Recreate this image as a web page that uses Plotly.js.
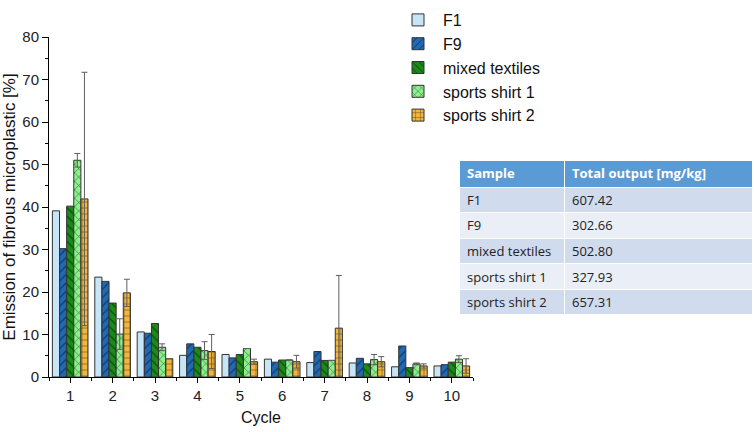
<!DOCTYPE html>
<html>
<head>
<meta charset="utf-8">
<script src="https://cdn.plot.ly/plotly-3.0.1.min.js"></script>
<style>
  html, body { margin: 0; padding: 0; background: #ffffff; }
  #chart { width: 754px; height: 432px; }
</style>
</head>
<body>
<div id="chart"></div>
<script>
// Emission per washing cycle
var cycles = [1, 2, 3, 4, 5, 6, 7, 8, 9, 10];
var tickLabels = ['1', '2', '3', '4', '5', '6', '7', '8', '9', '10'];

var seriesNames = ['F1', 'F9', 'mixed textiles', 'sports shirt 1', 'sports shirt 2'];

var f1 = [39.1, 23.5, 10.6, 5.1, 5.3, 4.2, 3.4, 3.3, 2.4, 2.6];
var f9 = [30.2, 22.5, 10.3, 7.8, 4.5, 3.5, 6.0, 4.4, 7.3, 2.9];
var mixedTextiles = [40.2, 17.4, 12.6, 7.0, 5.3, 4.0, 3.9, 3.1, 2.2, 3.5];
var sportsShirt1 = [51.0, 10.1, 7.0, 6.2, 6.7, 4.0, 3.9, 4.1, 3.1, 4.2];
var sportsShirt2 = [41.9, 19.8, 4.3, 6.0, 3.6, 3.6, 11.5, 3.6, 2.6, 2.6];

var sportsShirt1Err = [1.6, 3.6, 0.8, 2.1, 0, 0, 0, 1.2, 0.2, 0.8];
var sportsShirt2Err = [29.8, 3.2, 0, 4.0, 0.6, 1.5, 12.4, 1.2, 0.5, 1.7];

// Table of total output
var tableHeader = ['Sample', 'Total output [mg/kg]'];
var tableSamples = ['F1', 'F9', 'mixed textiles', 'sports shirt 1', 'sports shirt 2'];
var tableOutput = ['607.42', '302.66', '502.80', '327.93', '657.31'];

var W = 754, H = 432;
var M = { l: 49, r: 2, t: 37, b: 55 };
var plotW = W - M.l - M.r, plotH = H - M.t - M.b;
function px2x(p) { return (p - M.l) / plotW; }
function px2y(p) { return (H - M.b - p) / plotH; }

var styles = [
    { fill: '#c6e6f8', fg: '#c6e6f8', shape: '' },
    { fill: '#2269b3', fg: '#0f3a6a', shape: '/' },
    { fill: '#1b8a1b', fg: '#0b4a0b', shape: '\\' },
    { fill: '#8ef08e', fg: '#2e6e2e', shape: 'x' },
    { fill: '#f4b63a', fg: '#6b5220', shape: '+' }
];
var values = [f1, f9, mixedTextiles, sportsShirt1, sportsShirt2];
var errors = [null, null, null, sportsShirt1Err, sportsShirt2Err];

var traces = values.map(function(v, i) {
    var st = styles[i];
    var marker = {
        color: st.fill,
        line: { color: '#333333', width: 1 }
    };
    if (st.shape) {
        marker.pattern = { shape: st.shape, fgcolor: st.fg, bgcolor: st.fill, size: 6, solidity: 0.2, fillmode: 'replace' };
    }
    var t = {
        type: 'bar',
        name: seriesNames[i],
        x: cycles,
        y: v,
        marker: marker
    };
    if (errors[i]) {
        t.error_y = { type: 'data', array: errors[i], visible: true, color: '#5e5e5e', thickness: 1, width: 3 };
    }
    return t;
});

traces.push({
    type: 'table',
    domain: { x: [px2x(459), px2x(752)], y: [px2y(316), px2y(160)] },
    columnwidth: [105, 188],
    header: {
        values: tableHeader,
        align: 'left',
        height: 27,
        fill: { color: '#5b9bd5' },
        line: { color: '#ffffff', width: 1 },
        font: { family: 'Open Sans, sans-serif', size: 13, color: '#ffffff', weight: 'bold' }
    },
    cells: {
        values: [tableSamples, tableOutput],
        align: 'left',
        height: 25.6,
        fill: { color: [['#d0dbee', '#e9eef7', '#d0dbee', '#e9eef7', '#d0dbee']] },
        line: { color: '#ffffff', width: 1 },
        font: { family: 'Open Sans, sans-serif', size: 13, color: '#222222' }
    }
});

var axisFont = { family: 'Liberation Sans, Arial, sans-serif', size: 15, color: '#222222' };

var layout = {
    width: W,
    height: H,
    margin: M,
    paper_bgcolor: '#ffffff',
    plot_bgcolor: '#ffffff',
    font: axisFont,
    barmode: 'group',
    bargap: 0.16,
    bargroupgap: 0,
    showlegend: true,
    legend: {
        x: px2x(393), y: 1.1, xanchor: 'left', yanchor: 'top',
        font: { family: 'Liberation Sans, Arial, sans-serif', size: 16, color: '#111111' },
        tracegroupgap: 0,
        itemwidth: 40,
        bgcolor: 'rgba(0,0,0,0)'
    },
    xaxis: {
        domain: [0, px2x(473)],
        range: [0.5, 10.5],
        tickmode: 'array',
        tickvals: cycles,
        ticktext: tickLabels,
        ticks: 'outside',
        ticklen: 5,
        tickcolor: '#000000',
        showline: true,
        linecolor: '#000000',
        linewidth: 1,
        showgrid: false,
        zeroline: false,
        tickfont: axisFont,
        minor: { tick0: 0.5, dtick: 1, ticks: 'outside', ticklen: 3, tickcolor: '#000000', showgrid: false },
        title: { text: 'Cycle', font: { family: 'Liberation Sans, Arial, sans-serif', size: 16, color: '#111111' }, standoff: 8 }
    },
    yaxis: {
        range: [0, 80],
        tick0: 0,
        dtick: 10,
        ticks: 'outside',
        ticklen: 6,
        tickcolor: '#000000',
        showline: true,
        linecolor: '#000000',
        linewidth: 1,
        showgrid: false,
        zeroline: false,
        tickfont: axisFont,
        minor: { dtick: 5, ticks: 'outside', ticklen: 3, tickcolor: '#000000', showgrid: false },
        title: { text: 'Emission of fibrous microplastic [%]', font: { family: 'Liberation Sans, Arial, sans-serif', size: 17, color: '#111111' }, standoff: 4 }
    }
};

Plotly.newPlot('chart', traces, layout, { displayModeBar: false, responsive: false });
</script>
</body>
</html>
